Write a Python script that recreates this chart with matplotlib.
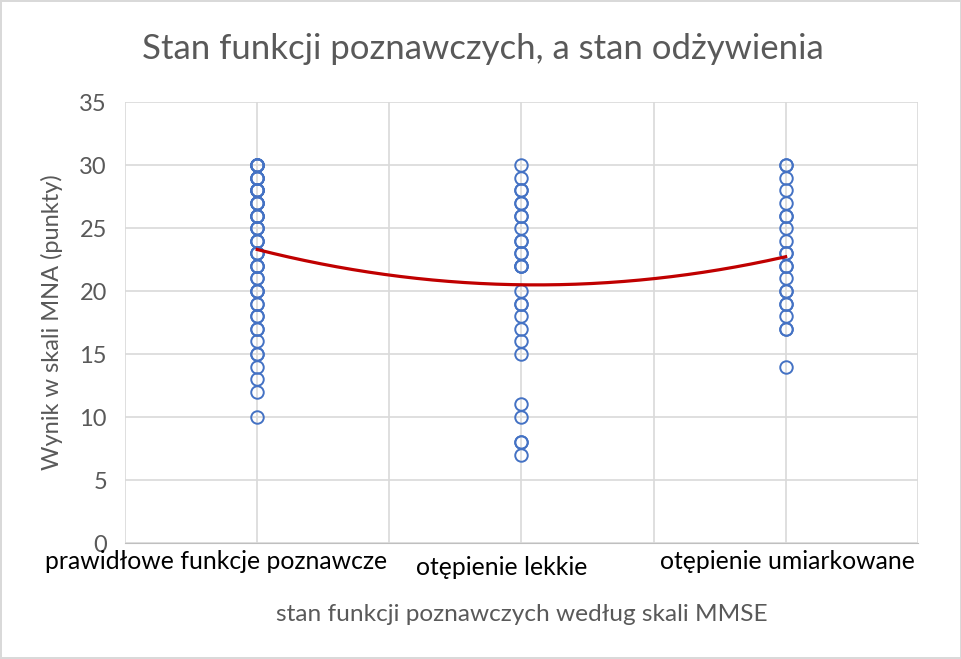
import numpy as np
import matplotlib
matplotlib.use("Agg")
import matplotlib.pyplot as plt
import matplotlib.transforms as mtransforms

# Data: MNA scores per MMSE group (duplicates overlap on the same circle)
categories = ["prawidłowe funkcje poznawcze", "otępienie lekkie", "otępienie umiarkowane"]
group_x = [1, 2, 3]
mna_normal = [30]*6 + [29]*4 + [28]*5 + [27]*4 + [26]*4 + [25]*3 + [24]*3 + [23]*3 + [22]*3 \
    + [21]*2 + [20]*3 + [19]*2 + [18]*2 + [17]*2 + [16] + [15]*2 + [14] + [13] + [12] + [10]
mna_mild = [30, 29, 28, 28, 27, 27, 26, 26, 25, 24, 24, 23, 23, 22, 22, 22,
            20, 19, 19, 18, 17, 16, 15, 11, 10, 8, 8, 7]
mna_moderate = [30, 30, 29, 28, 27, 26, 26, 25, 24, 23, 23, 22, 22, 21,
                20, 20, 19, 19, 18, 17, 17, 14]

groups = [mna_normal, mna_mild, mna_moderate]

plt.rcParams['font.family'] = ['Lato', 'DejaVu Sans']
gray = '#595959'

fig = plt.figure(figsize=(9.62, 6.59), dpi=100)
fig.patch.set_edgecolor('#D9D9D9')
fig.patch.set_linewidth(1.5)
ax = fig.add_axes([0.130, 0.176, 0.824, 0.669])

all_x, all_y = [], []
for gx, vals in zip(group_x, groups):
    xs = [gx] * len(vals)
    ax.plot(xs, vals, linestyle='none', marker='o', markersize=9,
            markerfacecolor='none', markeredgecolor='#4472C4', markeredgewidth=1.4)
    all_x += xs
    all_y += vals

# polynomial (order 2) trendline
coef = np.polyfit(all_x, all_y, 2)
tx = np.linspace(1, 3, 200)
ax.plot(tx, np.polyval(coef, tx), color='#C00000', linewidth=2.3, zorder=3)

ax.set_xlim(0.5, 3.5)
ax.set_ylim(0, 35)
ax.set_yticks(range(0, 36, 5))
ax.set_xticks(np.arange(0.5, 3.6, 0.5))
ax.set_xticklabels([])
ax.grid(True, color='#D9D9D9', linewidth=1.2)
ax.set_axisbelow(True)
for s in ['top', 'right', 'left']:
    ax.spines[s].set_visible(False)
ax.spines['bottom'].set_color('#BFBFBF')
ax.tick_params(axis='both', length=0)
ax.tick_params(axis='y', labelsize=17, labelcolor=gray, pad=13)

# category labels under the axis
offsets = [(-41, 0), (-20, -6), (2, 0)]
for gx, lab, (dx, dy) in zip(group_x, categories, offsets):
    tr = ax.get_xaxis_transform() + mtransforms.ScaledTranslation(dx/100, dy/100, fig.dpi_scale_trans)
    ax.text(gx, -0.015, lab, transform=tr, ha='center', va='top', fontsize=17.8, color='black')

ax.set_ylabel("Wynik w skali MNA (punkty)", fontsize=17, color=gray, labelpad=12)
fig.text(0.542, 0.068, "stan funkcji poznawczych według skali MMSE", ha='center', va='center',
         fontsize=17.6, color=gray)
fig.text(0.502, 0.925, "Stan funkcji poznawczych, a stan odżywienia", ha='center', va='center',
         fontsize=25, color=gray)

fig.savefig("out.png", dpi=100, edgecolor=fig.get_edgecolor())
